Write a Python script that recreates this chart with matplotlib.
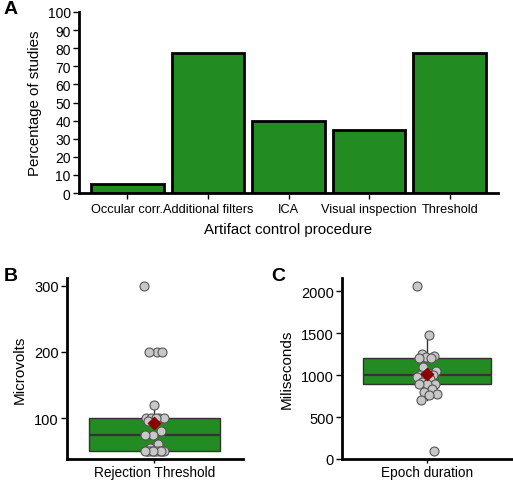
import numpy as np
import matplotlib
matplotlib.use("Agg")
import matplotlib.pyplot as plt
from matplotlib import font_manager

# ---------------- data ----------------
procedures = ["Occular corr.", "Additional filters", "ICA", "Visual inspection", "Threshold"]
pct_studies = [5, 77.5, 40, 35, 77.5]

rejection_threshold = [300, 200, 200, 200, 120, 100, 100, 100, 100, 100, 95, 80, 75, 75,
                       60, 55, 50, 50, 50, 50, 50, 50, 50, 50, 50, 50, 50]
epoch_duration = [2060, 1480, 1250, 1230, 1220, 1200, 1200, 1100, 1050, 1030, 1000, 1000,
                  1000, 980, 950, 920, 900, 900, 900, 830, 800, 780, 760, 700, 100]

# ---------------- style ----------------
names = {f.name for f in font_manager.fontManager.ttflist}
fam = ["Liberation Sans Narrow", "Liberation Sans", "DejaVu Sans"]
fam = [f for f in fam if f in names] or ["DejaVu Sans"]
plt.rcParams["font.family"] = fam
GREEN = "#228B22"

W, H = 513, 485
fig = plt.figure(figsize=(W / 100, H / 100), dpi=100)

def px_axes(l, t, r, b):
    return fig.add_axes([l / W, 1 - b / H, (r - l) / W, (b - t) / H])

def style(ax, lw=1.6, ls=10.5):
    for s in ["top", "right"]:
        ax.spines[s].set_visible(False)
    for s in ["left", "bottom"]:
        ax.spines[s].set_linewidth(lw)
        ax.spines[s].set_color("black")
    ax.tick_params(axis="both", direction="out", length=4, width=1.0, colors="black",
                   labelsize=ls, pad=2)

# ---------------- panel A ----------------
axA = px_axes(79, 13, 498, 194)
x = np.arange(len(procedures))
axA.bar(x, pct_studies, width=0.9, color=GREEN, edgecolor="black", linewidth=2, zorder=2)
axA.set_xlim(-0.6, 4.6)
axA.set_ylim(0, 100)
axA.set_yticks(np.arange(0, 101, 10))
axA.set_xticks(x)
axA.set_xticklabels(procedures)
style(axA, lw=2, ls=10)
axA.tick_params(axis="x", length=4, labelsize=9.2, pad=3)
axA.set_ylabel("Percentage of studies", fontsize=10.8, labelpad=4)
axA.set_xlabel("Artifact control procedure", fontsize=10.8, labelpad=5)
fig.text(4 / W, 1 - 1 / H, "A", fontsize=14, fontweight="bold", va="top", ha="left",
         family=["Liberation Sans", "DejaVu Sans"])

# ---------------- box panels ----------------
def box_panel(ax, data, label, ylabel, ylim, yticks, xlim):
    data = np.asarray(data, dtype=float)
    ax.boxplot([data], positions=[0], widths=1.0, patch_artist=True,
               showfliers=False, showcaps=False, whis=1.5,
               medianprops=dict(color="#333333", linewidth=1.6),
               boxprops=dict(facecolor=GREEN, edgecolor="#333333", linewidth=1.0),
               whiskerprops=dict(color="#333333", linewidth=1.0), zorder=2)
    n = len(data)
    idx = np.arange(n)
    jit = (((idx * 0.61803398875) % 1.0) - 0.5) * 0.16
    ax.scatter(jit, data, s=42, facecolor="#c8c8c8", edgecolor="#555555",
               linewidth=0.8, zorder=3)
    ax.scatter([0], [data.mean()], marker="D", s=38, color="#8B0000",
               edgecolor="#8B0000", zorder=4)
    ax.set_xlim(*xlim)
    ax.set_ylim(*ylim)
    ax.set_yticks(yticks)
    ax.set_xticks([0])
    ax.set_xticklabels([label])
    style(ax, lw=2, ls=10.5)
    ax.tick_params(axis="x", labelsize=9.8, pad=1, length=3)
    ax.set_ylabel(ylabel, fontsize=11, labelpad=5)

axB = px_axes(67, 279, 243, 460)
box_panel(axB, rejection_threshold, "Rejection Threshold", "Microvolts",
          (38, 312), [100, 200, 300], (-0.67, 0.68))
fig.text(4 / W, 1 - 268 / H, "B", fontsize=14, fontweight="bold", va="top", ha="left",
         family=["Liberation Sans", "DejaVu Sans"])

axC = px_axes(342, 279, 512, 460)
box_panel(axC, epoch_duration, "Epoch duration", "Miliseconds",
          (0, 2160), [0, 500, 1000, 1500, 2000], (-0.664, 0.664))
fig.text(271 / W, 1 - 268 / H, "C", fontsize=14, fontweight="bold", va="top", ha="left",
         family=["Liberation Sans", "DejaVu Sans"])

fig.savefig("out.png", dpi=100)
